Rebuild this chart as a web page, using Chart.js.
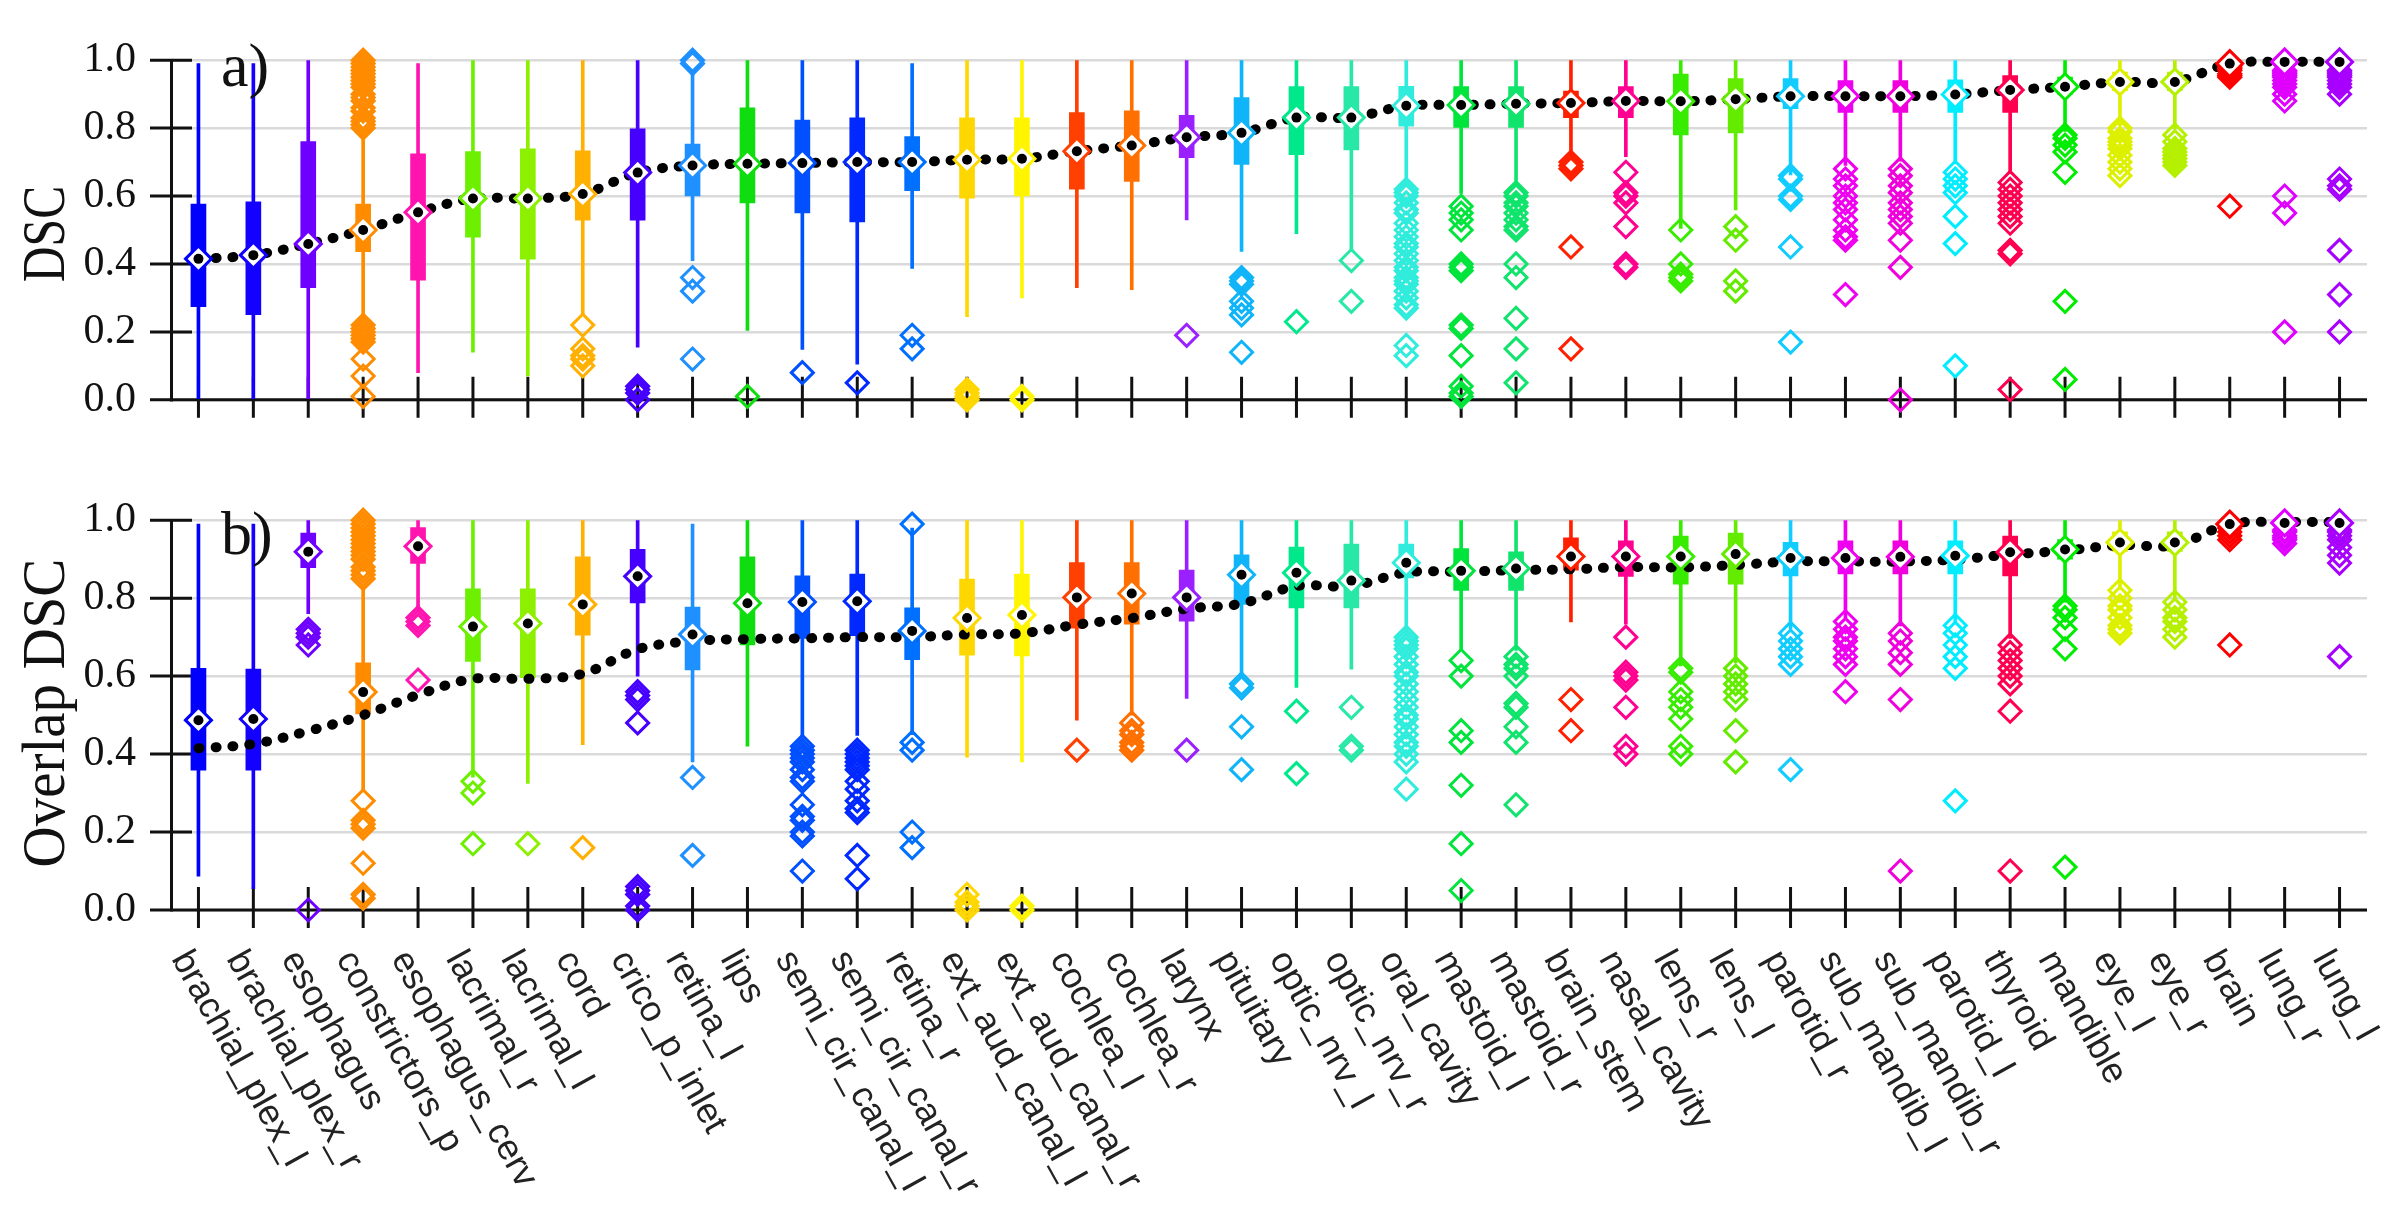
<!DOCTYPE html>
<html>
<head>
<meta charset="utf-8">
<script src="https://cdn.jsdelivr.net/npm/chart.js@4"></script>
<style>
  body { margin: 0; background: #fff; overflow: hidden; }
  canvas { position: absolute; left: 0; }
  #topChart { top: 0; }
  #bottomChart { top: 460px; }
</style>
</head>
<body>
<canvas id="topChart" width="2395" height="460"></canvas>
<canvas id="bottomChart" width="2395" height="768"></canvas>
<script>
const organs = ["brachial_plex_l", "brachial_plex_r", "esophagus", "constrictors_p", "esophagus_cerv",
  "lacrimal_r", "lacrimal_l", "cord", "crico_p_inlet", "retina_l", "lips", "semi_cir_canal_l",
  "semi_cir_canal_r", "retina_r", "ext_aud_canal_l", "ext_aud_canal_r", "cochlea_l", "cochlea_r",
  "larynx", "pituitary", "optic_nrv_l", "optic_nrv_r", "oral_cavity", "mastoid_l", "mastoid_r",
  "brain_stem", "nasal_cavity", "lens_r", "lens_l", "parotid_r", "sub_mandib_l", "sub_mandib_r",
  "parotid_l", "thyroid", "mandible", "eye_l", "eye_r", "brain", "lung_r", "lung_l"];

const yTicks = [0, 0.2, 0.4, 0.6, 0.8, 1.0];

// panel a) DSC
const dscMin = [0.0, 0.0, 0.0, 0.24, 0.08, 0.14, 0.07, 0.25, 0.155, 0.41, 0.204, 0.148, 0.105, 0.387, 0.245, 0.30, 0.33, 0.324, 0.53, 0.437,
  0.489, 0.437, 0.633, 0.608, 0.63, 0.716, 0.716, 0.505, 0.559, 0.662, 0.69, 0.703, 0.695, 0.666, 0.79, 0.806, 0.798, 0.985, 0.975, 0.975];
const dscQ1 = [0.274, 0.251, 0.33, 0.436, 0.352, 0.479, 0.414, 0.529, 0.529, 0.60, 0.58, 0.55, 0.524, 0.616, 0.594, 0.60, 0.62, 0.643, 0.713, 0.693,
  0.722, 0.736, 0.806, 0.802, 0.802, 0.831, 0.831, 0.78, 0.786, 0.857, 0.846, 0.846, 0.846, 0.846, 0.90, 0.91, 0.91, 0.988, 0.985, 0.985];
const dscMed = [0.415, 0.426, 0.459, 0.50, 0.552, 0.593, 0.593, 0.606, 0.669, 0.69, 0.695, 0.697, 0.70, 0.70, 0.707, 0.71, 0.732, 0.749, 0.773, 0.786,
  0.831, 0.831, 0.866, 0.868, 0.872, 0.874, 0.88, 0.879, 0.885, 0.894, 0.894, 0.894, 0.899, 0.912, 0.922, 0.936, 0.936, 0.99, 0.995, 0.995];
const dscQ3 = [0.576, 0.583, 0.76, 0.576, 0.724, 0.731, 0.739, 0.733, 0.798, 0.753, 0.86, 0.824, 0.83, 0.775, 0.83, 0.83, 0.846, 0.851, 0.838, 0.89,
  0.922, 0.922, 0.923, 0.922, 0.922, 0.909, 0.922, 0.959, 0.946, 0.946, 0.94, 0.94, 0.942, 0.955, 0.95, 0.965, 0.965, 1.0, 1.0, 1.0];
const dscMax = [0.99, 0.99, 1.0, 0.77, 0.99, 1.0, 1.0, 1.0, 1.0, 0.97, 1.0, 1.0, 1.0, 0.99, 1.0, 1.0, 1.0, 1.0, 1.0, 1.0,
  1.0, 1.0, 1.0, 1.0, 1.0, 1.0, 1.0, 1.0, 1.0, 1.0, 1.0, 1.0, 1.0, 1.0, 1.0, 1.0, 1.0, 1.0, 1.0, 1.0];
const dscOut = [
  [], [], [],
  [1.0, 0.99, 0.98, 0.97, 0.96, 0.95, 0.94, 0.93, 0.92, 0.9, 0.89, 0.88, 0.86, 0.85, 0.83, 0.82, 0.81, 0.8, 0.22, 0.21, 0.2, 0.19, 0.18, 0.17, 0.12, 0.07, 0.01],
  [], [], [],
  [0.22, 0.15, 0.13, 0.12, 0.1],
  [0.04, 0.03, 0.02, 0.0],
  [1.0, 0.99, 0.36, 0.32, 0.12],
  [0.01], [0.08], [0.05], [0.19, 0.15],
  [0.03, 0.02, 0.01, 0.0], [0.01, 0.0], [], [], [0.19],
  [0.36, 0.35, 0.34, 0.29, 0.27, 0.25, 0.14],
  [0.23], [0.41, 0.29],
  [0.62, 0.61, 0.6, 0.58, 0.56, 0.55, 0.52, 0.5, 0.48, 0.46, 0.45, 0.43, 0.41, 0.39, 0.38, 0.36, 0.35, 0.34, 0.32, 0.3, 0.28, 0.27, 0.16, 0.13],
  [0.57, 0.55, 0.53, 0.5, 0.4, 0.39, 0.38, 0.22, 0.21, 0.13, 0.04, 0.02, 0.01],
  [0.61, 0.6, 0.58, 0.57, 0.55, 0.53, 0.51, 0.5, 0.4, 0.36, 0.24, 0.15, 0.05],
  [0.7, 0.69, 0.68, 0.45, 0.15],
  [0.67, 0.61, 0.6, 0.58, 0.51, 0.4, 0.39],
  [0.5, 0.4, 0.37, 0.36, 0.35],
  [0.51, 0.47, 0.35, 0.32],
  [0.66, 0.65, 0.6, 0.59, 0.45, 0.17],
  [0.68, 0.65, 0.63, 0.6, 0.58, 0.56, 0.53, 0.5, 0.48, 0.47, 0.31],
  [0.68, 0.66, 0.63, 0.61, 0.58, 0.56, 0.54, 0.52, 0.47, 0.39, 0.0],
  [0.67, 0.65, 0.63, 0.61, 0.54, 0.46, 0.1],
  [0.64, 0.62, 0.6, 0.58, 0.56, 0.54, 0.52, 0.44, 0.43, 0.03],
  [0.78, 0.77, 0.75, 0.73, 0.67, 0.29, 0.06],
  [0.8, 0.79, 0.77, 0.76, 0.75, 0.74, 0.72, 0.7, 0.68, 0.66],
  [0.78, 0.76, 0.74, 0.73, 0.72, 0.71, 0.7, 0.69],
  [0.98, 0.975, 0.97, 0.96, 0.955, 0.95, 0.57],
  [0.97, 0.965, 0.96, 0.955, 0.95, 0.94, 0.93, 0.92, 0.9, 0.88, 0.6, 0.55, 0.2],
  [0.97, 0.965, 0.96, 0.955, 0.95, 0.94, 0.93, 0.92, 0.9, 0.65, 0.63, 0.62, 0.44, 0.31, 0.2]
];

// panel b) Overlap DSC
const ovMin = [0.087, 0.055, 0.76, 0.309, 0.77, 0.341, 0.325, 0.424, 0.60, 0.38, 0.42, 0.448, 0.448, 0.45, 0.392, 0.38, 0.487, 0.5, 0.543, 0.602,
  0.571, 0.618, 0.713, 0.666, 0.666, 0.739, 0.733, 0.626, 0.634, 0.721, 0.75, 0.729, 0.739, 0.697, 0.79, 0.83, 0.8, 0.985, 0.98, 0.98];
const ovQ1 = [0.359, 0.359, 0.878, 0.503, 0.889, 0.638, 0.596, 0.705, 0.788, 0.616, 0.68, 0.697, 0.704, 0.642, 0.654, 0.652, 0.723, 0.733, 0.741, 0.784,
  0.775, 0.775, 0.852, 0.82, 0.82, 0.872, 0.856, 0.836, 0.836, 0.857, 0.862, 0.862, 0.862, 0.857, 0.90, 0.92, 0.92, 0.988, 0.985, 0.985];
const ovMed = [0.487, 0.49, 0.919, 0.559, 0.933, 0.727, 0.735, 0.784, 0.856, 0.707, 0.787, 0.79, 0.792, 0.716, 0.749, 0.757, 0.802, 0.812, 0.802, 0.86,
  0.865, 0.845, 0.891, 0.87, 0.876, 0.907, 0.907, 0.907, 0.913, 0.903, 0.903, 0.906, 0.909, 0.918, 0.925, 0.943, 0.943, 0.99, 0.993, 0.993];
const ovQ3 = [0.62, 0.618, 0.967, 0.634, 0.981, 0.824, 0.824, 0.906, 0.925, 0.777, 0.906, 0.857, 0.862, 0.775, 0.849, 0.862, 0.891, 0.891, 0.872, 0.911,
  0.931, 0.939, 0.939, 0.927, 0.919, 0.955, 0.947, 0.959, 0.967, 0.943, 0.947, 0.947, 0.947, 0.959, 0.95, 0.97, 0.97, 1.0, 1.0, 1.0];
const ovMax = [0.99, 0.99, 1.0, 0.832, 1.0, 1.0, 1.0, 1.0, 1.0, 0.99, 1.0, 1.0, 1.0, 0.98, 1.0, 1.0, 1.0, 1.0, 1.0, 1.0,
  1.0, 1.0, 1.0, 1.0, 1.0, 1.0, 1.0, 1.0, 1.0, 1.0, 1.0, 1.0, 1.0, 1.0, 1.0, 1.0, 1.0, 1.0, 1.0, 1.0];
const ovOut = [
  [], [],
  [0.72, 0.71, 0.7, 0.68, 0.0],
  [1.0, 0.99, 0.98, 0.97, 0.96, 0.95, 0.94, 0.93, 0.92, 0.91, 0.9, 0.88, 0.87, 0.86, 0.85, 0.28, 0.23, 0.22, 0.21, 0.12, 0.04, 0.03],
  [0.75, 0.74, 0.73, 0.59],
  [0.33, 0.3, 0.17],
  [0.17],
  [0.16],
  [0.56, 0.55, 0.54, 0.48, 0.06, 0.05, 0.04, 0.01, 0.0],
  [0.34, 0.14],
  [],
  [0.42, 0.41, 0.4, 0.39, 0.38, 0.36, 0.34, 0.33, 0.27, 0.24, 0.23, 0.2, 0.19, 0.1],
  [0.41, 0.4, 0.39, 0.38, 0.37, 0.36, 0.33, 0.31, 0.28, 0.26, 0.25, 0.14, 0.08],
  [0.99, 0.43, 0.41, 0.2, 0.16],
  [0.04, 0.02, 0.01, 0.0],
  [0.01, 0.0],
  [0.41],
  [0.48, 0.46, 0.45, 0.43, 0.42, 0.41],
  [0.41],
  [0.58, 0.57, 0.47, 0.36],
  [0.51, 0.35],
  [0.52, 0.42, 0.41],
  [0.7, 0.69, 0.68, 0.67, 0.65, 0.63, 0.61, 0.6, 0.58, 0.56, 0.54, 0.52, 0.5, 0.49, 0.47, 0.45, 0.43, 0.42, 0.4, 0.38, 0.31],
  [0.64, 0.6, 0.46, 0.43, 0.32, 0.17, 0.05],
  [0.65, 0.63, 0.62, 0.6, 0.53, 0.52, 0.47, 0.43, 0.27],
  [0.54, 0.46],
  [0.7, 0.61, 0.6, 0.59, 0.52, 0.42, 0.4],
  [0.62, 0.61, 0.56, 0.54, 0.52, 0.49, 0.42, 0.4],
  [0.62, 0.6, 0.58, 0.56, 0.54, 0.46, 0.38],
  [0.71, 0.69, 0.67, 0.65, 0.63, 0.36],
  [0.74, 0.72, 0.7, 0.69, 0.67, 0.65, 0.63, 0.56],
  [0.71, 0.69, 0.66, 0.63, 0.54, 0.1],
  [0.73, 0.71, 0.68, 0.65, 0.62, 0.28],
  [0.68, 0.66, 0.64, 0.62, 0.6, 0.58, 0.51, 0.1],
  [0.78, 0.77, 0.75, 0.72, 0.67, 0.11],
  [0.82, 0.8, 0.78, 0.77, 0.75, 0.73, 0.72, 0.71],
  [0.79, 0.77, 0.75, 0.74, 0.72, 0.7],
  [0.98, 0.97, 0.96, 0.95, 0.68],
  [0.975, 0.97, 0.96, 0.955, 0.95, 0.94],
  [0.975, 0.97, 0.96, 0.95, 0.93, 0.91, 0.89, 0.65]
];

const organColors = ["#0000FF", "#1400FF", "#6E00FF", "#FF8C00", "#FF14B0", "#6CF000", "#8CF000", "#FFB000", "#4600FF", "#1E90FF",
  "#10DD10", "#0050FF", "#0028FF", "#0070FF", "#FFD700", "#FFF500", "#FF4000", "#FF7000", "#9B20FF", "#10B4F8",
  "#00E88C", "#28E8A8", "#30ECDC", "#00E43C", "#10E46C", "#FF2000", "#FF0090", "#38EC00", "#64EC00", "#10CCFF",
  "#F000F0", "#F000DC", "#00ECFF", "#FF0050", "#00EC00", "#DCF000", "#B4F000", "#FF0000", "#E000FF", "#A800FF"];

const panelDeco = {
  id: "panelDeco",
  beforeDatasetsDraw(chart, args, opts) {
    const { ctx, chartArea: a, scales: { x, y } } = chart;
    const y0 = y.getPixelForValue(0);
    ctx.save();
    ctx.strokeStyle = "#111";
    ctx.lineWidth = 3;
    ctx.beginPath();
    ctx.moveTo(a.left - 21, y0);
    ctx.lineTo(a.right, y0);
    yTicks.forEach((v) => {
      const py = y.getPixelForValue(v);
      ctx.moveTo(a.left - 21, py);
      ctx.lineTo(a.left + 21, py);
    });
    organs.forEach((o, i) => {
      const px = x.getPixelForValue(i);
      ctx.moveTo(px, y0 - 23);
      ctx.lineTo(px, y0 + 18);
    });
    ctx.stroke();
    ctx.restore();
  },
  afterDraw(chart, args, opts) {
    const { ctx, chartArea: a, scales: { x, y } } = chart;
    const y0 = y.getPixelForValue(0);
    ctx.save();
    ctx.fillStyle = "#111";

    // axis title
    ctx.save();
    ctx.font = '62px "Liberation Serif"';
    ctx.textAlign = "center";
    ctx.textBaseline = "middle";
    ctx.translate(48, (a.top + a.bottom) / 2 + opts.titleShift);
    ctx.rotate(-Math.PI / 2);
    ctx.scale(opts.titleScale, 1);
    ctx.fillText(opts.title, 0, 0);
    ctx.restore();

    // panel letter
    ctx.font = '62px "Liberation Serif"';
    ctx.textAlign = "left";
    ctx.textBaseline = "alphabetic";
    ctx.fillText(opts.letter, 221, opts.letterY);

    if (opts.labels) {
      ctx.font = '36px "Liberation Sans"';
      ctx.fillStyle = "#222";
      ctx.textBaseline = "top";
      organs.forEach((o, i) => {
        const px = x.getPixelForValue(i);
        ctx.save();
        ctx.translate(px - 3, y0 + 35);
        ctx.rotate((61 * Math.PI) / 180);
        ctx.fillText(o, 0, 0);
        ctx.restore();
      });
    }
    ctx.restore();
  }
};

function makePanel(id, lo, q1, med, q3, hi, outs, deco, axisH, padTop) {
  let outData = [];
  let outColors = [];
  outs.forEach((list, i) => {
    list.forEach((v) => {
      outData.push({ x: organs[i], y: v });
      outColors.push(organColors[i]);
    });
  });

  return new Chart(document.getElementById(id), {
    type: "bar",
    data: {
      labels: organs,
      datasets: [
        {
          type: "line",
          data: med,
          showLine: false,
          pointStyle: "circle",
          pointRadius: 5,
          pointBackgroundColor: "#000",
          pointBorderWidth: 0,
          clip: false,
          order: 0,
        },
        {
          type: "line",
          data: med,
          showLine: false,
          pointStyle: "rectRot",
          pointRadius: 13,
          pointBackgroundColor: "#fff",
          pointBorderColor: organColors,
          pointBorderWidth: 3,
          clip: false,
          order: 1,
        },
        {
          type: "line",
          data: outData,
          showLine: false,
          pointStyle: "rectRot",
          pointRadius: 11,
          pointBackgroundColor: "rgba(0,0,0,0)",
          pointBorderColor: outColors,
          pointBorderWidth: 3,
          clip: false,
          order: 2,
        },
        {
          type: "line",
          data: dscMed,
          borderColor: "#000",
          borderWidth: 10,
          borderDash: [1, 16],
          borderCapStyle: "round",
          pointRadius: 0,
          tension: 0.35,
          fill: false,
          clip: false,
          order: 3,
        },
        {
          data: organs.map((o, i) => [q1[i], q3[i]]),
          backgroundColor: organColors,
          barThickness: 15,
          grouped: false,
          borderWidth: 0,
          order: 4,
        },
        {
          data: organs.map((o, i) => [lo[i], hi[i]]),
          backgroundColor: organColors,
          barThickness: 3,
          grouped: false,
          borderWidth: 0,
          order: 5,
        },
      ],
    },
    options: {
      responsive: false,
      animation: false,
      devicePixelRatio: 1,
      events: [],
      layout: { padding: { left: 0, right: 28, top: padTop, bottom: 0 } },
      plugins: {
        legend: { display: false },
        tooltip: { enabled: false },
        panelDeco: deco,
      },
      scales: {
        x: {
          offset: true,
          grid: { display: false },
          border: { display: false },
          ticks: { display: false },
          afterFit: (s) => { s.height = axisH; },
        },
        y: {
          min: 0,
          max: 1,
          afterBuildTicks: (s) => { s.ticks = yTicks.map((v) => ({ value: v })); },
          ticks: {
            callback: (v) => v.toFixed(1),
            font: { family: "Liberation Serif", size: 42 },
            color: "#111",
            padding: 35,
          },
          grid: { color: "#dadada", lineWidth: 2.5, drawTicks: false },
          border: { color: "#111", width: 3 },
          afterFit: (s) => { s.width = 171; },
        },
      },
    },
    plugins: [panelDeco],
  });
}

makePanel("topChart", dscMin, dscQ1, dscMed, dscQ3, dscMax, dscOut,
  { title: "DSC", titleScale: 0.8, titleShift: 4, letter: "a)", letterY: 86, labels: false }, 27, 28);
makePanel("bottomChart", ovMin, ovQ1, ovMed, ovQ3, ovMax, ovOut,
  { title: "Overlap DSC", titleScale: 0.92, titleShift: -2, letter: "b)", letterY: 94, labels: true }, 318, 29);
</script>
</body>
</html>
